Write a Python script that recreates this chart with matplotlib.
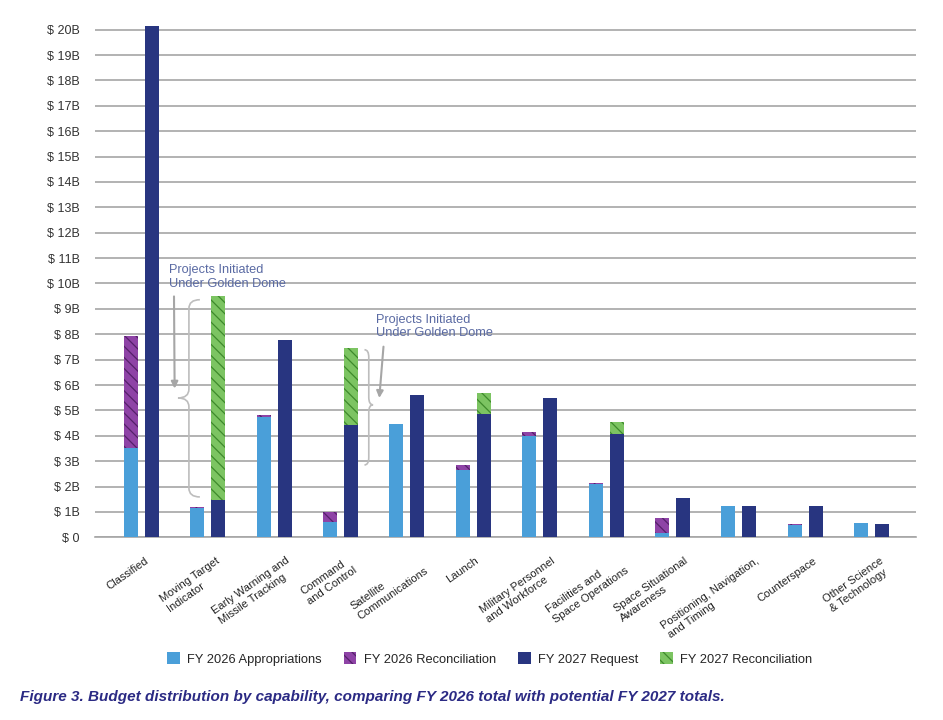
import numpy as np
import matplotlib
matplotlib.use('Agg')
import matplotlib.pyplot as plt
from matplotlib.patches import Patch, PathPatch
from matplotlib.path import Path
from matplotlib.transforms import ScaledTranslation

plt.rcParams['font.family'] = ['Liberation Sans', 'DejaVu Sans']
plt.rcParams['hatch.linewidth'] = 0.9

# valori in miliardi di dollari
categories = ['Classified', 'Moving Target\nIndicator', 'Early Warning and\nMissile Tracking',
              'Command\nand Control', 'Satellite\nCommunications', 'Launch',
              'Military Personnel\nand Workforce', 'Facilities and\nSpace Operations',
              'Space Situational\nAwareness', 'Positioning, Navigation,\nand Timing',
              'Counterspace', 'Other Science\n& Technology']
fy26_approp = [3.50, 1.17, 4.75, 0.61, 4.45, 2.66, 4.00, 2.10, 0.17, 1.24, 0.49, 0.57]
fy26_recon = [4.44, 0.04, 0.05, 0.39, 0.00, 0.19, 0.15, 0.05, 0.60, 0.00, 0.03, 0.00]
fy27_request = [20.15, 1.47, 7.76, 4.41, 5.60, 4.84, 5.48, 4.07, 1.53, 1.24, 1.24, 0.51]
fy27_recon = [0.00, 8.03, 0.00, 3.04, 0.00, 0.83, 0.00, 0.46, 0.00, 0.00, 0.00, 0.00]
y_ticks = list(range(0, 21))
y_labels = ['$ 0'] + [f'$ {v}B' for v in y_ticks[1:]]

c_approp = '#4A9FD9'
c_recon26 = '#8E43A6'
c_recon26_h = '#55206A'
c_request = '#283580'
c_recon27 = '#7CC462'
c_recon27_h = '#3E8A2C'
grid_c = '#A6A6A6'

fig = plt.figure(figsize=(9.43, 7.2), dpi=100)
ax = fig.add_axes([95/943, 1 - 537.3/720, 821/943, 520.3/720])

x = np.arange(len(categories))
w = 0.21
off = 0.158

ax.bar(x - off, fy26_approp, w, color=c_approp, zorder=3)
ax.bar(x - off, fy26_recon, w, bottom=fy26_approp, color=c_recon26, edgecolor=c_recon26_h,
       linewidth=0, hatch='\\\\\\', zorder=3)
ax.bar(x + off, fy27_request, w, color=c_request, zorder=3)
ax.bar(x + off, fy27_recon, w, bottom=fy27_request, color=c_recon27, edgecolor=c_recon27_h,
       linewidth=0, hatch='\\\\\\', zorder=3)

ax.set_xlim(-0.7, 11.67)
ax.set_ylim(0, 20.5)
ax.set_yticks(y_ticks)
ax.set_yticklabels(y_labels, fontsize=9, color='#333333')
ax.yaxis.grid(True, color=grid_c, linewidth=1.2, zorder=0)
ax.set_axisbelow(True)
for s in ['top', 'right', 'left']:
    ax.spines[s].set_visible(False)
ax.spines['bottom'].set_color(grid_c)
ax.spines['bottom'].set_linewidth(1.2)
ax.tick_params(axis='y', length=0, pad=11)

# etichette asse x ruotate (ancorate in alto a destra)
ang = 35
ax.set_xticks(x)
ax.set_xticklabels(categories, rotation=ang, ha='right', va='top', rotation_mode='anchor',
                   fontsize=8, color='#222222')
ax.tick_params(axis='x', length=0, pad=13)
renderer = fig.canvas.get_renderer()
for lab in ax.get_xticklabels():
    lab.set_multialignment('left')
    lab.set_linespacing(1.25)
    # le etichette lunghe si spostano un po' a destra, come nell'originale
    wmax = max(renderer.get_text_width_height_descent(t, lab.get_fontproperties(), False)[0]
               for t in lab.get_text().split('\n'))
    dx = 0.23 * wmax * np.cos(np.radians(ang)) - 5.6
    lab.set_transform(lab.get_transform() + ScaledTranslation(dx/100, 0, fig.dpi_scale_trans))


def brace(x_end, x_tip, y0, y1, ymid, d=0.35):
    xm = (x_end + x_tip) / 2
    verts = [(x_end, y1), (xm, y1), (xm, y1 - d), (xm, ymid + d),
             (xm, ymid), (x_tip, ymid), (xm, ymid), (xm, ymid - d),
             (xm, y0 + d), (xm, y0), (x_end, y0)]
    codes = [Path.MOVETO, Path.CURVE3, Path.CURVE3, Path.LINETO,
             Path.CURVE3, Path.CURVE3, Path.CURVE3, Path.CURVE3,
             Path.LINETO, Path.CURVE3, Path.CURVE3]
    ax.add_patch(PathPatch(Path(verts, codes), fill=False, edgecolor='#BDBDBD', lw=1.2, zorder=4))


note_c = '#5A6AA3'
ax.text(0.41, 10.75, 'Projects Initiated\nUnder Golden Dome', ha='left', va='top',
        fontsize=9.2, color=note_c, zorder=5, linespacing=1.15)
ax.annotate('', xy=(0.50, 5.75), xytext=(0.49, 9.6),
            arrowprops=dict(arrowstyle='-|>', color='#A6A6A6', lw=1.5, mutation_scale=10))
brace(0.88, 0.55, 1.59, 9.36, 5.49)

ax.text(3.53, 8.8, 'Projects Initiated\nUnder Golden Dome', ha='left', va='top',
        fontsize=9.2, color=note_c, zorder=5, linespacing=1.15)
ax.annotate('', xy=(3.58, 5.38), xytext=(3.65, 7.62),
            arrowprops=dict(arrowstyle='-|>', color='#A6A6A6', lw=1.5, mutation_scale=10))
brace(3.36, 3.49, 2.85, 7.39, 5.22, d=0.3)

handles = [Patch(facecolor=c_approp, edgecolor=c_approp, linewidth=0),
           Patch(facecolor=c_recon26, edgecolor=c_recon26_h, linewidth=0, hatch='\\\\\\'),
           Patch(facecolor=c_request, edgecolor=c_request, linewidth=0),
           Patch(facecolor=c_recon27, edgecolor=c_recon27_h, linewidth=0, hatch='\\\\\\')]
labels = ['FY 2026 Appropriations', 'FY 2026 Reconciliation', 'FY 2027 Request', 'FY 2027 Reconciliation']
fig.legend(handles, labels, loc='center', bbox_to_anchor=(489.5/943, 1 - 659/720), ncol=4,
           frameon=False, fontsize=9.3, handlelength=1.0, handleheight=1.0,
           handletextpad=0.55, columnspacing=1.7, labelcolor='#262626')

fig.text(20/943, 1 - 697/720,
         'Figure 3. Budget distribution by capability, comparing FY 2026 total with potential FY 2027 totals.',
         ha='left', va='center', fontsize=11, fontweight='bold', style='italic', color='#2B2A84',
         family=['Liberation Sans Narrow', 'Liberation Sans'])

fig.savefig('out.png', dpi=100)
